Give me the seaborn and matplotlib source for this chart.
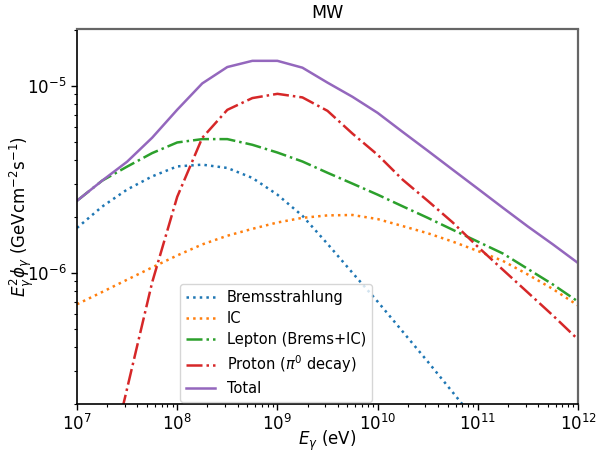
import numpy as np
import pandas as pd
import matplotlib
matplotlib.use("Agg")
import matplotlib.pyplot as plt
import seaborn as sns

# Energy grid (eV): 10^7 ... 10^12 in steps of 0.25 decade
log_energy = [7.0, 7.25, 7.5, 7.75, 8.0, 8.25, 8.5, 8.75, 9.0, 9.25, 9.5,
              9.75, 10.0, 10.25, 10.5, 10.75, 11.0, 11.25, 11.5, 11.75, 12.0]

brems = [1.74e-6, 2.26e-6, 2.79e-6, 3.28e-6, 3.71e-6, 3.79e-6, 3.64e-6, 3.22e-6,
         2.62e-6, 2.02e-6, 1.43e-6, 1.00e-6, 7.03e-7, 4.86e-7, 3.36e-7, 2.30e-7,
         1.57e-7, 1.07e-7, 7.2e-8, 4.9e-8, 3.3e-8]
ic = [6.8e-7, 7.9e-7, 9.2e-7, 1.07e-6, 1.24e-6, 1.42e-6, 1.58e-6, 1.72e-6,
      1.86e-6, 1.97e-6, 2.03e-6, 2.04e-6, 1.94e-6, 1.78e-6, 1.63e-6, 1.47e-6,
      1.31e-6, 1.16e-6, 9.8e-7, 8.2e-7, 6.7e-7]
lepton = [2.43e-6, 3.11e-6, 3.70e-6, 4.37e-6, 4.98e-6, 5.19e-6, 5.19e-6, 4.84e-6,
          4.40e-6, 3.94e-6, 3.43e-6, 3.00e-6, 2.62e-6, 2.27e-6, 1.97e-6, 1.70e-6,
          1.47e-6, 1.27e-6, 1.05e-6, 8.67e-7, 7.03e-7]
proton = [1.5e-8, 6.5e-8, 2.41e-7, 8.9e-7, 2.55e-6, 5.27e-6, 7.44e-6, 8.6e-6,
          9.06e-6, 8.67e-6, 7.35e-6, 5.55e-6, 4.28e-6, 3.15e-6, 2.43e-6, 1.86e-6,
          1.38e-6, 1.04e-6, 7.85e-7, 5.92e-7, 4.41e-7]
total = [2.43e-6, 3.11e-6, 3.93e-6, 5.28e-6, 7.45e-6, 1.03e-5, 1.26e-5, 1.36e-5,
         1.36e-5, 1.25e-5, 1.04e-5, 8.73e-6, 7.17e-6, 5.67e-6, 4.50e-6, 3.56e-6,
         2.82e-6, 2.23e-6, 1.77e-6, 1.42e-6, 1.13e-6]

labels = ["Bremsstrahlung", "IC", "Lepton (Brems+IC)", r"Proton ($\pi^0$ decay)", "Total"]
series = [brems, ic, lepton, proton, total]
colors = ["#1f77b4", "#ff7f0e", "#2ca02c", "#d62728", "#9467bd"]
styles = [":", ":", "-.", "-.", "-"]

energy = [10 ** v for v in log_energy]

plt.rcParams["font.family"] = ["DejaVu Sans"]
plt.rcParams["font.size"] = 12

fig = plt.figure(figsize=(5.98, 4.61), dpi=100)
ax = fig.add_axes([77 / 598, 1 - 403.7 / 461, (578 - 77) / 598, (403.7 - 29.5) / 461])

for lab, vals, col, ls in zip(labels, series, colors, styles):
    df = pd.DataFrame({"E": energy, "flux": vals})
    sns.lineplot(data=df, x="E", y="flux", ax=ax, color=col, linestyle=ls,
                 linewidth=1.8, label=lab)

ax.set_xscale("log")
ax.set_yscale("log")
ax.set_xlim(1e7, 1e12)
ax.set_ylim(2e-7, 2e-5)
ax.set_title("MW", fontsize=12.5, pad=8)
ax.set_xlabel(r"$E_\gamma$ (eV)", fontsize=12)
ax.set_ylabel(r"$E_\gamma^2\phi_\gamma$ (GeVcm$^{-2}$s$^{-1}$)", fontsize=12)
ax.xaxis.set_label_coords(0.5, -0.067)
ax.yaxis.set_label_coords(-0.082, 0.5)
ax.tick_params(axis="both", which="major", labelsize=12, length=4.2, width=1)
ax.tick_params(axis="both", which="minor", length=2.4, width=0.8)
ax.tick_params(top=False, right=False, which="both")
for side in ["top", "right"]:
    ax.spines[side].set_color("#666666")
    ax.spines[side].set_linewidth(1.6)
for side in ["left", "bottom"]:
    ax.spines[side].set_color("black")
    ax.spines[side].set_linewidth(1.2)

ax.legend(loc="lower left", bbox_to_anchor=(0.2056, 0.005), borderaxespad=0,
          fontsize=10.5, handlelength=2.0, labelspacing=0.42)

fig.savefig("out.png", dpi=100)
